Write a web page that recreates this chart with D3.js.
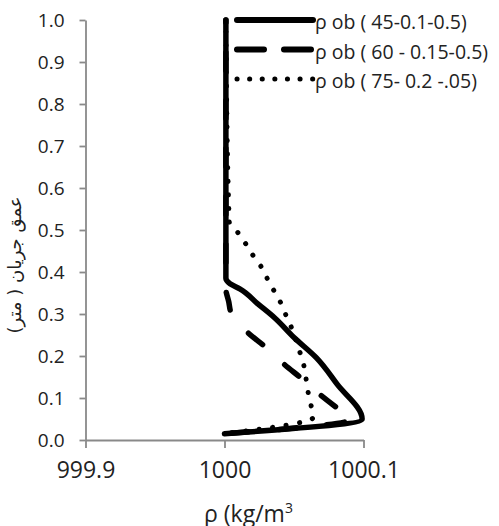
<!DOCTYPE html>
<html><head><meta charset="utf-8">
<script src="https://cdn.jsdelivr.net/npm/d3@7"></script>
<style>body{margin:0;background:#fff}svg{display:block}</style>
</head><body>
<script>
// ---- data ----
const xTicks = [999.9, 1000, 1000.1];
const xTickLabels = ["999.9", "1000", "1000.1"];
const yTicks = [0, 0.1, 0.2, 0.3, 0.4, 0.5, 0.6, 0.7, 0.8, 0.9, 1.0];
const seriesNames = ["ρ ob ( 45-0.1-0.5)", "ρ ob ( 60 - 0.15-0.5)", "ρ ob ( 75- 0.2 -.05)"];
const depthSolid = [1.0, 0.385, 0.372, 0.36, 0.324, 0.291, 0.244, 0.196, 0.133, 0.05, 0.015];
const rhoSolid = [1000.001, 1000.001, 1000.004, 1000.011, 1000.024, 1000.036, 1000.050, 1000.066, 1000.081, 1000.099, 1000.000];
const depthDashed = [1.0, 0.36, 0.33, 0.30, 0.255, 0.22, 0.18, 0.145, 0.11, 0.074, 0.05, 0.015];
const rhoDashed = [1000.001, 1000.001, 1000.003, 1000.005, 1000.017, 1000.030, 1000.043, 1000.056, 1000.068, 1000.082, 1000.092, 1000.0];
const depthDotted = [1.0, 0.52, 0.493, 0.466, 0.436, 0.41, 0.377, 0.348, 0.317, 0.286, 0.256, 0.224, 0.19, 0.152, 0.12, 0.087, 0.055, 0.015];
const rhoDotted = [1000.001, 1000.0034, 1000.0098, 1000.0155, 1000.0212, 1000.0269, 1000.0319, 1000.0369, 1000.0419, 1000.0455, 1000.0498, 1000.0526, 1000.0562, 1000.0584, 1000.0598, 1000.0619, 1000.0641, 1000.0];

const W = 499, H = 526;
const svg = d3.select("body").append("svg").attr("width", W).attr("height", H);
const x = d3.scaleLinear().domain([999.9, 1000.1]).range([85.5, 363.5]);
const y = d3.scaleLinear().domain([0, 1]).range([440, 20]);
const axisColor = "#898989";
const tickFont = "'Open Sans', sans-serif";

// axes
const gx = svg.append("g").attr("transform", `translate(0,${y(0)})`)
  .call(d3.axisBottom(x).tickValues(xTicks).tickFormat((d, i) => xTickLabels[i]).tickSize(8).tickPadding(14).tickSizeOuter(0));
const gy = svg.append("g").attr("transform", `translate(${x(999.9)},0)`)
  .call(d3.axisLeft(y).tickValues(yTicks).tickFormat(d3.format(".1f")).tickSize(6).tickPadding(15).tickSizeOuter(0));
[gx, gy].forEach(g => {
  g.select(".domain").attr("stroke", axisColor).attr("stroke-width", 1.8);
  g.selectAll(".tick line").attr("stroke", axisColor).attr("stroke-width", 1.8);
  g.selectAll("text").attr("fill", "#222").attr("font-family", tickFont);
});
gx.selectAll("text").attr("font-size", 23);
gy.selectAll("text").attr("font-size", 19).attr("dy", "0.35em");

// lines
const line = d3.line().x(d => x(d[0])).y(d => y(d[1])).curve(d3.curveMonotoneY);
const zip = (a, b) => a.map((v, i) => [v, b[i]]);
svg.append("path").datum(zip(rhoDotted, depthDotted)).attr("d", line)
  .attr("fill", "none").attr("stroke", "#000").attr("stroke-width", 5)
  .attr("stroke-linecap", "round").attr("stroke-dasharray", "0.1,13.5").attr("stroke-dashoffset", 1.9);
svg.append("path").datum(zip(rhoDashed, depthDashed)).attr("d", line)
  .attr("fill", "none").attr("stroke", "#000").attr("stroke-width", 5.5)
  .attr("stroke-linecap", "round").attr("stroke-dasharray", "18,30").attr("stroke-dashoffset", 15.5);
svg.append("path").datum(zip(rhoSolid, depthSolid)).attr("d", line)
  .attr("fill", "none").attr("stroke", "#000").attr("stroke-width", 5.5)
  .attr("stroke-linejoin", "round").attr("stroke-linecap", "round");

// legend
const legendStyles = [
  {dash: null, w: 6},
  {dash: "27,20", w: 6},
  {dash: "0.1,12.5", w: 5}
];
const lg = svg.append("g");
seriesNames.forEach((name, i) => {
  const ly = 20 + i * 29.5;
  lg.append("rect").attr("x", 231).attr("y", ly - 14).attr("width", 260).attr("height", 28).attr("fill", "#fff");
  lg.append("line").attr("x1", 237).attr("x2", 313).attr("y1", ly).attr("y2", ly)
    .attr("stroke", "#000").attr("stroke-width", legendStyles[i].w).attr("stroke-linecap", "round")
    .attr("stroke-dasharray", legendStyles[i].dash);
  lg.append("text").attr("x", 315).attr("y", ly + 9).text(name)
    .attr("font-family", tickFont).attr("font-size", 19.5).attr("fill", "#222");
});

// axis titles
const xt = svg.append("text").attr("x", 204).attr("y", 522)
  .attr("font-family", tickFont).attr("font-size", 23).attr("fill", "#222");
xt.append("tspan").text("ρ (kg/m");
xt.append("tspan").text("3").attr("font-size", 14).attr("dy", -9);

svg.append("text").attr("transform", "translate(16,265) rotate(-90)")
  .attr("text-anchor", "middle").attr("dominant-baseline", "middle")
  .attr("font-family", "'DejaVu Sans', sans-serif").attr("font-size", 18).attr("fill", "#222")
  .attr("direction", "rtl").text("عمق جریان ( متر)");
</script>
</body></html>
